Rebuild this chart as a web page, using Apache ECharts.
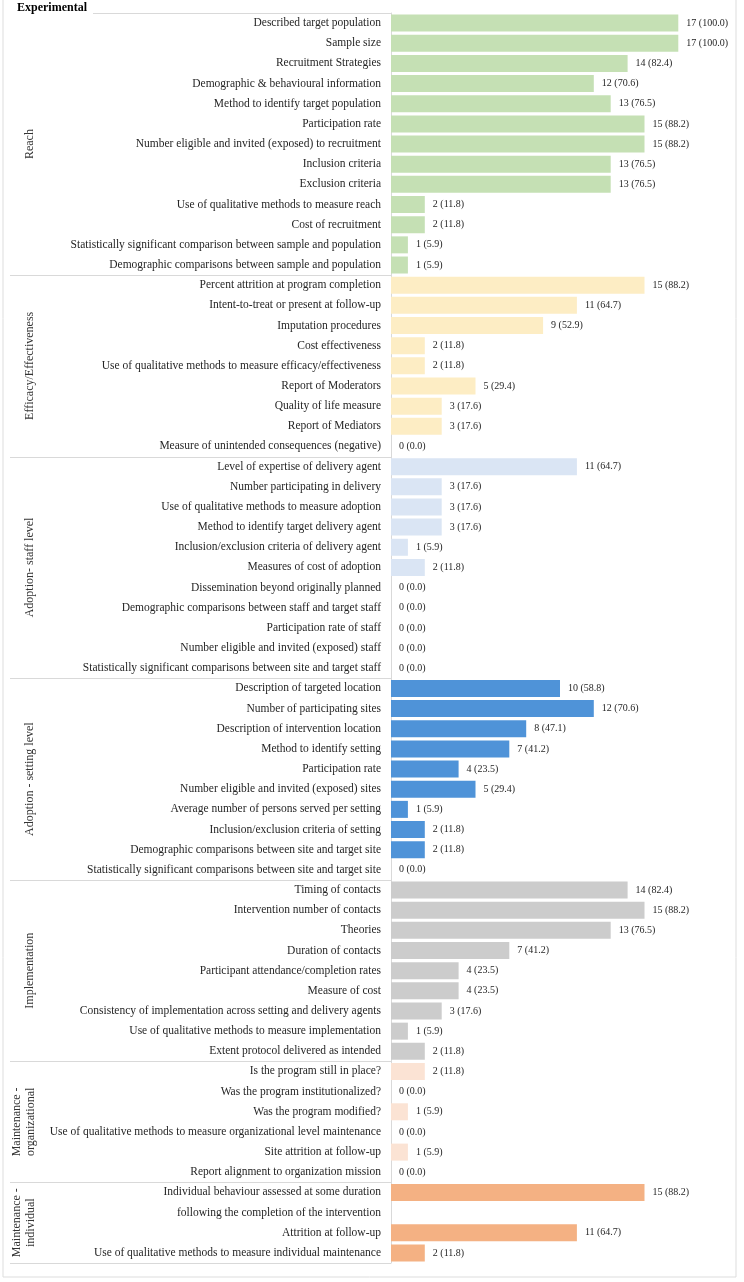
<!DOCTYPE html>
<html><head><meta charset="utf-8">
<script src="https://cdn.jsdelivr.net/npm/echarts@6/dist/echarts.min.js"></script>
<style>html,body{margin:0;padding:0;background:#fff}#c{width:744px;height:1282px}</style>
</head><body><div id="c"></div>
<script>
const chartTitle = 'Experimental';
const totalStudies = 17;

const reachCats = ['Described target population','Sample size','Recruitment Strategies','Demographic & behavioural information','Method to identify target population','Participation rate','Number eligible and invited (exposed) to recruitment','Inclusion criteria','Exclusion criteria','Use of qualitative methods to measure reach','Cost of recruitment','Statistically significant comparison between sample and population','Demographic comparisons between sample and population'];
const reachVals = [17,17,14,12,13,15,15,13,13,2,2,1,1];

const efficacyCats = ['Percent attrition at program completion','Intent-to-treat or present at follow-up','Imputation procedures','Cost effectiveness','Use of qualitative methods to measure efficacy/effectiveness','Report of Moderators','Quality of life measure','Report of Mediators','Measure of unintended consequences (negative)'];
const efficacyVals = [15,11,9,2,2,5,3,3,0];

const staffCats = ['Level of expertise of delivery agent','Number participating in delivery','Use of qualitative methods to measure adoption','Method to identify target delivery agent','Inclusion/exclusion criteria of delivery agent','Measures of cost of adoption','Dissemination beyond originally planned','Demographic comparisons between staff and target staff','Participation rate of staff','Number eligible and invited (exposed) staff','Statistically significant comparisons between site and target staff'];
const staffVals = [11,3,3,3,1,2,0,0,0,0,0];

const settingCats = ['Description of targeted location','Number of participating sites','Description of intervention location','Method to identify setting','Participation rate','Number eligible and invited (exposed) sites','Average number of persons served per setting','Inclusion/exclusion criteria of setting','Demographic comparisons between site and target site','Statistically significant comparisons between site and target site'];
const settingVals = [10,12,8,7,4,5,1,2,2,0];

const implCats = ['Timing of contacts','Intervention number of contacts','Theories','Duration of contacts','Participant attendance/completion rates','Measure of cost','Consistency of implementation across setting and delivery agents','Use of qualitative methods to measure implementation','Extent protocol delivered as intended'];
const implVals = [14,15,13,7,4,4,3,1,2];

const orgCats = ['Is the program still in place?','Was the program institutionalized?','Was the program modified?','Use of qualitative methods to measure organizational level maintenance','Site attrition at follow-up','Report alignment to organization mission'];
const orgVals = [2,0,1,0,1,0];

const indivCats = ['Individual behaviour assessed at some duration','following the completion of the intervention','Attrition at follow-up','Use of qualitative methods to measure individual maintenance'];
const indivVals = [15,null,11,2];

const groupNames = ['Reach','Efficacy/Effectiveness','Adoption- staff level','Adoption - setting level','Implementation','Maintenance -\norganizational','Maintenance -\nindividual'];
const groupColors = ['#c5e0b4','#fdedc4','#dae5f4','#4f93d8','#cccccc','#fbe3d4','#f4b183'];

const groupCats = [reachCats,efficacyCats,staffCats,settingCats,implCats,orgCats,indivCats];
const groupVals = [reachVals,efficacyVals,staffVals,settingVals,implVals,orgVals,indivVals];

const categories = [];
const data = [];
const groupRanges = [];
groupCats.forEach((cats, g) => {
  const start = categories.length;
  cats.forEach((c, i) => {
    categories.push(c);
    const v = groupVals[g][i];
    data.push(v === null ? {value: '-'} : {value: v, itemStyle: {color: groupColors[g]}});
  });
  groupRanges.push([start, categories.length - 1]);
});

const chart = echarts.init(document.getElementById('c'), null, {renderer: 'canvas'});
const serif = '"Liberation Serif", "Times New Roman", serif';
chart.setOption({
  animation: false,
  backgroundColor: '#fff',
  grid: {left: 391, right: 15, top: 13, bottom: 19, containLabel: false},
  xAxis: {type: 'value', min: 0, max: 20, show: false},
  yAxis: {
    type: 'category', inverse: true, data: categories,
    axisLine: {show: true, lineStyle: {color: '#d9d9d9', width: 1}},
    axisTick: {show: false},
    axisLabel: {fontFamily: serif, fontSize: 11.5, color: '#262626', margin: 10, interval: 0}
  },
  series: [{
    type: 'bar', data: data, barWidth: 17,
    label: {
      show: true, position: 'right', distance: 8,
      fontFamily: serif, fontSize: 10, color: '#262626',
      formatter: p => (p.value === '-' || p.value == null) ? '' : p.value + ' (' + (p.value / totalStudies * 100).toFixed(1) + ')'
    }
  }]
});

function drawGraphics() {
  const els = [];
  els.push({type: 'rect', shape: {x: 3, y: -1, width: 733, height: 1278}, style: {fill: 'none', stroke: '#dddddd', lineWidth: 1}, silent: true, z: 0});
  const yAt = i => chart.convertToPixel({yAxisIndex: 0}, i);
  const step = yAt(1) - yAt(0);
  els.push({type: 'line', shape: {x1: 93, y1: 13.5, x2: 391, y2: 13.5}, style: {stroke: '#d9d9d9', lineWidth: 1}, silent: true});
  groupRanges.forEach((r, g) => {
    const yTop = yAt(r[0]) - step / 2;
    const yBot = yAt(r[1]) + step / 2;
    els.push({type: 'line', shape: {x1: 10, y1: Math.round(yBot) + 0.5, x2: 391, y2: Math.round(yBot) + 0.5}, style: {stroke: '#d9d9d9', lineWidth: 1}, silent: true});
    const multi = groupNames[g].indexOf('\n') >= 0;
    els.push({
      type: 'text', x: multi ? 24 : 30, y: (yTop + yBot) / 2, rotation: Math.PI / 2,
      style: {text: groupNames[g], fontFamily: serif, fontSize: 12, fill: '#333333', align: 'center', verticalAlign: 'middle', lineHeight: 14},
      silent: true
    });
  });
  els.push({type: 'text', x: 17, y: 8, style: {text: chartTitle, fontFamily: serif, fontSize: 12, fontWeight: 'bold', fill: '#000', align: 'left', verticalAlign: 'middle'}, silent: true});
  chart.setOption({graphic: {elements: els}});
}
drawGraphics();
</script>
</body></html>
